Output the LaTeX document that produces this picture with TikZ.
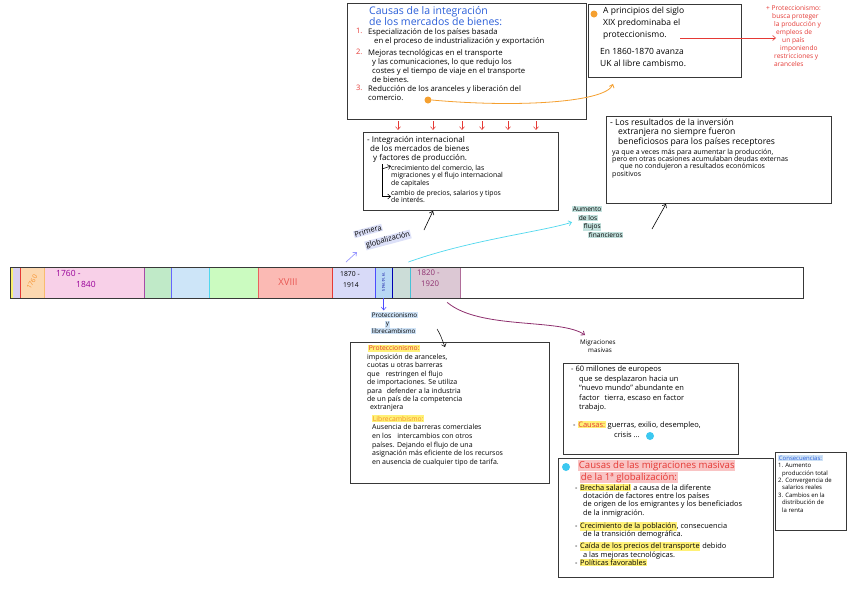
\documentclass[tikz,border=0pt]{standalone}
\usepackage{fontspec}
\setmainfont{Open Sans}
\usetikzlibrary{arrows.meta,calc}
\definecolor{boxline}{HTML}{383838}
\definecolor{titleblue}{HTML}{2B5FD9}
\definecolor{redtxt}{HTML}{E53935}
\definecolor{orangeC}{HTML}{F5A030}
\definecolor{hlyel}{HTML}{FFF176}
\definecolor{hlpink}{HTML}{F9C4C4}
\definecolor{hlblue}{HTML}{CFE3F7}
\definecolor{hlteal}{HTML}{C3E2DE}
\definecolor{hllav}{HTML}{DCE0F8}
\definecolor{cyanC}{HTML}{4FD8EE}
\definecolor{cyanDot}{HTML}{3CC8F0}
\definecolor{purpleC}{HTML}{8E2F6E}
\definecolor{cYel}{HTML}{F8F070}
\definecolor{cLav}{HTML}{D8D0F0}
\definecolor{cOra}{HTML}{FCD8B0}
\definecolor{cPink}{HTML}{F8D0E8}
\definecolor{cGreen}{HTML}{C0EAC8}
\definecolor{cLBlue}{HTML}{CDE5F8}
\definecolor{cLGreen}{HTML}{CBFBC0}
\definecolor{cSalmon}{HTML}{FBBAB4}
\definecolor{cLav2}{HTML}{D8DAF8}
\definecolor{cBlue}{HTML}{B8D8F5}
\definecolor{cGG}{HTML}{CCDDD8}
\definecolor{cMauve}{HTML}{DCC8D4}
\newcommand\fsz[2]{\fontsize{#1}{#2}\selectfont}
\newcommand\hlt[2]{{\setlength\fboxsep{0.7pt}\colorbox{#1}{#2}}}
\begin{document}
\begin{tikzpicture}[x=1pt,y=-1pt,
  box/.style={draw=boxline,line width=0.9pt,anchor=north west,inner sep=0pt},
  txt/.style={anchor=north west,inner sep=0pt,align=left},
  arr/.style={-{Straight Barb[length=3pt,width=5pt]},line width=0.6pt},
  seg/.style={anchor=north west,inner sep=0pt,minimum height=31pt,draw=none},
  dot/.style={circle,inner sep=0pt,minimum size=7pt}]
\useasboundingbox[fill=white] (0,0) rectangle (848,598);

% ---------- boxes ----------
\node[box,minimum width=239pt,minimum height=116pt] (b1) at (347,3) {};
\node[box,minimum width=153pt,minimum height=73pt] (b2) at (588,4) {};
\node[box,minimum width=195pt,minimum height=78pt] (b3) at (363,132) {};
\node[box,minimum width=225pt,minimum height=87pt] (b4) at (606,116) {};
\node[box,minimum width=199pt,minimum height=141pt] (b5) at (350,342) {};
\node[box,minimum width=175pt,minimum height=91pt] (b6) at (563,363) {};
\node[box,minimum width=215pt,minimum height=119pt] (b7) at (558,458) {};
\node[box,minimum width=71pt,minimum height=78pt] (b8) at (775,452) {};

% ---------- box 1 ----------
\node[txt,text=titleblue,font=\fsz{10.5}{9.5}] (t1) at (369,6) {Causas de la integración\\de los mercados de bienes:};
\node[txt,text=redtxt,font=\fsz{7.5}{9}] (n1) at (356,28) {1.};
\node[txt,text=redtxt,font=\fsz{7.5}{9}] (n2) at (356,49) {2.};
\node[txt,text=redtxt,font=\fsz{7.5}{9}] (n3) at (356,85) {3.};
\node[txt,font=\fsz{7.7}{9.3}] (i1) at (368,28) {Especialización de los países basada\\\hspace*{6pt}en el proceso de industrialización y exportación};
\node[txt,font=\fsz{7.7}{9}] (i2) at (368,49) {Mejoras tecnológicas en el transporte\\\hspace*{4pt}y las comunicaciones, lo que redujo los\\\hspace*{4pt}costes y el tiempo de viaje en el transporte\\\hspace*{4pt}de bienes.};
\node[txt,font=\fsz{7.7}{9.3}] (i3) at (368,85) {Reducción de los aranceles y liberación del\\comercio.};
\node[dot,fill=orangeC] (od1) at (428,100) {};

% ---------- box 2 ----------
\node[dot,fill=orangeC] (od2) at (594,14) {};
\node[txt,font=\fsz{8.5}{12}] (t2a) at (603,7) {A principios del siglo\\XIX predominaba el\\proteccionismo.};
\node[txt,font=\fsz{8.5}{12}] (t2b) at (600,48) {En 1860-1870 avanza\\UK al libre cambismo.};
\node[txt,text=redtxt,font=\fsz{6.6}{8}] (rn) at (766,5) {+ Proteccionismo:\\\hspace*{6pt}busca proteger\\\hspace*{8pt}la producción y\\\hspace*{10pt}empleos de\\\hspace*{16pt}un país\\\hspace*{14pt}imponiendo\\\hspace*{8pt}restricciones y\\\hspace*{8pt}aranceles};
\coordinate (ra) at (680,38);
\draw[arr,redtxt] (ra) -- (776,38);
\draw[arr,orangeC,line width=0.8pt] (od1.east) .. controls (520,108) and (606,102) .. ([xshift=25pt,yshift=-6pt]b2.south west);

% ---------- box 3 ----------
\foreach \x in {398,433,462,482,508,536} \draw[arr,redtxt,line width=0.5pt] (\x,121) -- (\x,130);
\node[txt,font=\fsz{8}{9}] (t3) at (367,136) {- Integración internacional\\\hspace*{3pt}de los mercados de bienes\\\hspace*{6pt}y factores de producción.};
\node[txt,font=\fsz{6.9}{7.3}] (t3a) at (391,165) {crecimiento del comercio, las\\migraciones y el flujo internacional\\de capitales};
\node[txt,font=\fsz{6.9}{7.3}] (t3b) at (391,190) {cambio de precios, salarios y tipos\\de interés.};
\draw[arr,line width=0.5pt] (382,164) |- (t3b.west);
\draw[arr,line width=0.5pt] (382,169) -- ([yshift=-1pt]t3a.north west);

% ---------- box 4 ----------
\node[txt,font=\fsz{8.6}{9.2}] (t4) at (610,119) {- Los resultados de la inversión\\\hspace*{8pt}extranjera no siempre fueron\\\hspace*{8pt}beneficiosos para los países receptores};
\node[txt,font=\fsz{7}{7.2}] (t4b) at (612,149) {ya que a veces más para aumentar la producción,\\pero en otras ocasiones acumulaban deudas externas\\\hspace*{8pt}que no condujeron a resultados económicos\\positivos};

% ---------- labels around ----------
\node[txt,font=\fsz{6.6}{8.6}] (fl) at (572,206) {\hlt{hlteal}{Aumento}\\\hspace*{6pt}\hlt{hlteal}{de los}\\\hspace*{11pt}\hlt{hlteal}{flujos}\\\hspace*{16pt}\hlt{hlteal}{financieros}};
\coordinate (fa) at (652,229);
\draw[arr] (fa) -- ([xshift=60pt]b4.south west);
\node[font=\fsz{7.5}{8},rotate=15,inner sep=0pt] (pg1) at (368,231) {\hlt{hllav}{Primera}};
\node[font=\fsz{7.5}{8},rotate=15,inner sep=0pt] (pg2) at (388,240) {\hlt{hllav}{globalización}};
\coordinate (pa) at (424,230);
\draw[arr] (pa) -- ([xshift=70pt]b3.south west);

% ---------- timeline bar ----------
\node[seg,fill=cYel,minimum width=3.5pt] (s1) at (9.5,267) {};
\node[seg,fill=cLav,minimum width=7.7pt] (s2) at (13,267) {};
\node[seg,fill=cOra,minimum width=23.3pt] (s3) at (20.7,267) {};
\node[seg,fill=cPink,minimum width=100pt] (s4) at (44,267) {};
\node[seg,fill=cGreen,minimum width=27pt] (s5) at (144,267) {};
\node[seg,fill=cLBlue,minimum width=38pt] (s6) at (171,267) {};
\node[seg,fill=cLGreen,minimum width=49pt] (s7) at (209,267) {};
\node[seg,fill=cSalmon,minimum width=74pt] (s8) at (258,267) {};
\node[seg,fill=cLav2,minimum width=43pt] (s9) at (332,267) {};
\node[seg,fill=cBlue,minimum width=17pt] (s10) at (375,267) {};
\node[seg,fill=cGG,minimum width=18pt] (s11) at (392,267) {};
\node[seg,fill=cMauve,minimum width=50pt] (s12) at (410,267) {};
\draw[redtxt,line width=0.8pt] (s3.north west) -- (s3.south west);
\draw[orangeC!70,line width=0.6pt] (s4.north west) -- (s4.south west);
\draw[violet!70,line width=0.8pt] (s5.north west) -- (s5.south west);
\draw[blue!60,line width=0.8pt] (s6.north west) -- (s6.south west);
\draw[cyanC,line width=0.6pt] (s7.north west) -- (s7.south west);
\draw[redtxt!80,line width=0.8pt] (s8.north west) -- (s8.south west);
\draw[redtxt,line width=0.8pt] (s9.north west) -- (s9.south west);
\draw[blue!70,line width=0.8pt] (s10.north west) -- (s10.south west);
\draw[blue!70!black,line width=0.8pt] (s11.north west) -- (s11.south west);
\draw[cyanC!90!black,line width=0.8pt] (s12.north west) -- (s12.south west);
\draw[purpleC!70,line width=0.8pt] (s12.north east) -- (s12.south east);
\node[draw=boxline,line width=1pt,anchor=north west,inner sep=0pt,minimum width=793.5pt,minimum height=31pt] (bar) at (9.5,267) {};
\node[text=orangeC!90!red,font=\fsz{6.5}{7},rotate=60,inner sep=0pt] (y1) at (32,282) {1760};
\node[txt,text=violet!80!magenta,font=\fsz{8.5}{11}] (y2) at (56,270) {1760 -\\\hspace*{20pt}1840};
\node[text=redtxt!85,font=\fsz{9.5}{10}] (y3) at (288,282) {XVIII};
\node[txt,font=\fsz{6.8}{11}] (y4) at (340,271) {1870 -\\\hspace*{3pt}1914};
\node[text=blue!60!black,font=\fsz{3.8}{4},rotate=-90,inner sep=0pt] (y5) at (383.5,282) {1914-1945};
\node[txt,text=purpleC,font=\fsz{7.8}{11}] (y6) at (417,270) {1820 -\\\hspace*{4pt}1920};

% ---------- connectors from bar ----------
\draw[arr,cyanC,line width=0.7pt] ($(s11.north east)+(-2,-5)$) .. controls (470,240) and (540,232) .. (fl.west);
\draw[arr,blue!40,line width=0.7pt] ($(s9.north west)+(14,-5)$) -- ($(s9.north west)+(25,-15)$);
\draw[arr,blue!70,line width=0.5pt] (s10.south) -- ($(s10.south)+(0,12)$);
\node[txt,font=\fsz{6.3}{8}] (pl) at (371,312) {\hlt{hlblue}{Proteccionismo}\\\hspace*{14pt}\hlt{hlblue}{y}\\\hlt{hlblue}{librecambismo}};
\coordinate (ph) at (437,329);
\draw[arr,line width=0.5pt] (ph) .. controls (440,334) .. ([xshift=95pt,yshift=-5pt]b5.north west);
\draw[arr,purpleC,line width=0.8pt] ($(s12.south)+(12,4)$) .. controls (480,330) and (560,318) .. (585,335);

% ---------- box 5 ----------
\node[txt,text=redtxt,font=\fsz{6.8}{8}] (p1) at (368,345) {\hlt{hlyel}{Proteccionismo:}};
\node[txt,font=\fsz{7}{8.4}] (p2) at (367,354) {imposición de aranceles,\\cuotas u otras barreras\\que \hspace{4pt}restringen el flujo\\de importaciones. Se utiliza\\para \hspace{3pt}defender a la industria\\de un país de la competencia\\\hspace*{3pt}extranjera};
\node[txt,text=orangeC!90!red,font=\fsz{6.8}{8}] (p3) at (372,415) {\hlt{hlyel}{Librecambismo:}};
\node[txt,font=\fsz{7}{8.8}] (p4) at (372,424) {Ausencia de barreras comerciales\\en los \hspace{4pt}intercambios con otros\\países. Dejando el flujo de una\\asignación más eficiente de los recursos\\en ausencia de cualquier tipo de tarifa.};

% ---------- box 6 ----------
\node[txt,font=\fsz{6.3}{7.8}] (mm) at (580,340) {Migraciones\\\hspace*{8pt}masivas};
\node[txt,font=\fsz{7.5}{9.4}] (m1) at (571,366) {- 60 millones de europeos\\\hspace*{8pt}que se desplazaron hacia un\\\hspace*{8pt}“nuevo mundo” abundante en\\\hspace*{8pt}factor \hspace{3pt}tierra, escaso en factor\\\hspace*{8pt}trabajo.};
\node[txt,font=\fsz{7.5}{10}] (m2) at (573,421) {- \textcolor{redtxt}{\hlt{hlyel}{Causas:}} guerras, exilio, desempleo,\\\hspace*{41pt}crisis ...};
\node[dot,fill=cyanDot,minimum size=8pt] (cd1) at (650,436) {};

% ---------- box 7 ----------
\node[dot,fill=cyanDot,minimum size=8pt] (cd2) at (566,467) {};
\node[txt,text=redtxt,font=\fsz{9.6}{10}] (c1) at (578,460) {\hlt{hlpink}{Causas de las migraciones masivas}\\\hspace*{2pt}\hlt{hlpink}{de la 1ª globalización:}};
\node[txt,font=\fsz{7.4}{8.2}] (c2) at (575,484) {- \hlt{hlyel}{Brecha salarial} a causa de la diferente\\\hspace*{8pt}dotación de factores entre los países\\\hspace*{8pt}de origen de los emigrantes y los beneficiados\\\hspace*{8pt}de la inmigración.};
\node[txt,font=\fsz{7.4}{8.2}] (c3) at (575,522) {- \hlt{hlyel}{Crecimiento de la población}, consecuencia\\\hspace*{8pt}de la transición demográfica.};
\node[txt,font=\fsz{7.4}{8}] (c4) at (575,542) {- \hlt{hlyel}{Caída de los precios del transporte} debido\\\hspace*{8pt}a las mejoras tecnológicas.};
\node[txt,font=\fsz{7.4}{8}] (c5) at (575,559) {- \hlt{hlyel}{Políticas favorables}};

% ---------- box 8 ----------
\node[txt,font=\fsz{6}{7.4}] (k1) at (778,455) {\textcolor{titleblue}{\hlt{hlblue}{Consecuencias:}}\\1. Aumento\\\hspace*{4pt}producción total\\2. Convergencia de\\\hspace*{4pt}salarios reales\\3. Cambios en la\\\hspace*{4pt}distribución de\\\hspace*{4pt}la renta};
\end{tikzpicture}
\end{document}
